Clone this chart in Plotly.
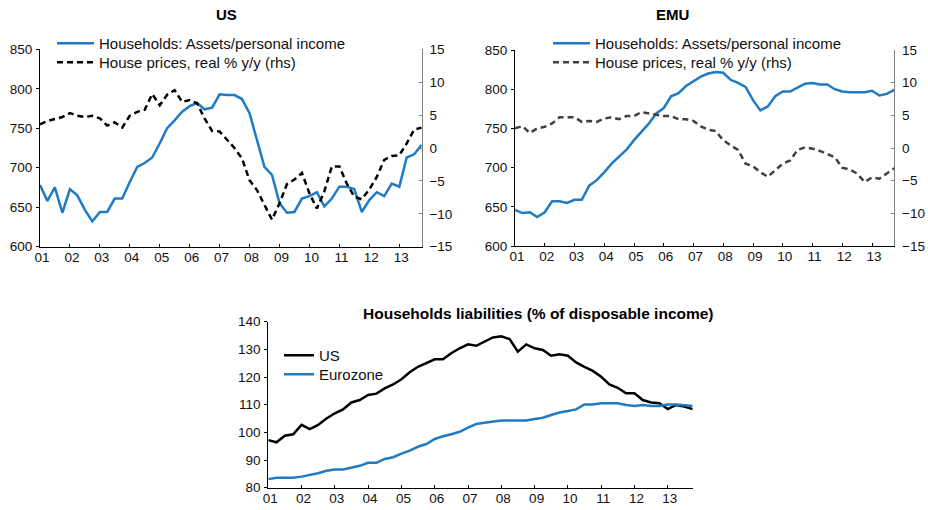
import plotly.graph_objects as go
import pandas as pd

# Quarterly observations 2001Q1 .. 2013Q4
quarters = pd.date_range("2001-01-01", periods=52, freq="QS")
year_ticks = pd.date_range("2001-01-01", "2013-01-01", freq="YS")

# US: households assets / personal income (lhs) and real house prices % y/y (rhs)
us_assets = [678, 658, 675, 643, 673, 665, 647, 632, 644, 644, 661, 661, 682, 701,
             706, 713, 731, 750, 760, 771, 778, 782, 774, 776, 793, 792, 792, 787,
             769, 735, 701, 691, 655, 643, 644, 661, 664, 669, 651, 661, 676, 676,
             673, 644, 659, 669, 664, 680, 676, 713, 717, 729]
us_house = [3.6, 4.1, 4.4, 4.7, 5.3, 4.9, 4.7, 4.9, 4.5, 3.4, 3.9, 3.1, 4.9, 5.5,
            5.8, 8.2, 6.5, 8.1, 8.8, 7.0, 7.3, 6.8, 4.5, 2.6, 2.5, 1.2, 0.0, -1.6,
            -4.9, -6.4, -8.6, -10.9, -8.4, -5.5, -4.8, -3.8, -6.9, -9.2, -6.6, -2.8,
            -2.8, -5.4, -7.4, -7.8, -6.3, -4.4, -1.8, -1.2, -1.1, 0.7, 2.8, 3.1]

# EMU
emu_assets = [646, 642, 643, 637, 643, 657, 657, 655, 659, 659, 677, 684, 694, 705,
              714, 723, 735, 746, 756, 769, 776, 791, 795, 804, 810, 816, 820, 822,
              821, 812, 808, 803, 786, 773, 778, 791, 797, 797, 802, 807, 808, 806,
              806, 800, 797, 796, 796, 796, 798, 792, 794, 799]
emu_house = [3.0, 3.35, 2.3, 3.0, 3.25, 3.75, 4.7, 4.7, 4.7, 4.0, 4.15, 4.0, 4.5, 4.7,
             4.4, 4.9, 4.9, 5.5, 5.3, 5.0, 4.9, 4.9, 4.4, 4.4, 4.15, 3.3, 2.8, 2.6,
             1.2, 0.4, -0.3, -2.4, -2.8, -3.7, -4.4, -3.4, -2.4, -1.9, -0.3, 0.1,
             -0.1, -0.45, -0.95, -1.4, -3.0, -3.3, -3.9, -5.2, -4.5, -4.7, -3.9, -3.1]

# Households liabilities (% of disposable income)
us_liab = [97.2, 96.4, 98.8, 99.3, 102.7, 101.2, 102.7, 105.0, 106.9, 108.3, 110.8,
           111.7, 113.5, 114.0, 115.9, 117.3, 119.2, 121.7, 123.7, 125.2, 126.4,
           126.4, 128.6, 130.4, 131.8, 131.3, 132.8, 134.3, 134.7, 133.7, 129.2,
           131.8, 130.4, 129.8, 127.7, 128.2, 127.7, 125.3, 123.7, 122.2, 120.1,
           117.3, 116.1, 114.1, 114.1, 111.7, 110.8, 110.5, 108.4, 109.9, 109.3, 108.4]
ez_liab = [83.1, 83.6, 83.6, 83.6, 84.0, 84.6, 85.2, 86.1, 86.6, 86.6, 87.3, 87.9,
           89.0, 89.0, 90.4, 91.0, 92.3, 93.4, 94.8, 95.8, 97.6, 98.6, 99.3, 100.2,
           101.7, 103.0, 103.5, 104.0, 104.3, 104.3, 104.3, 104.3, 104.8, 105.3,
           106.3, 107.2, 107.7, 108.3, 110.1, 110.1, 110.5, 110.5, 110.5, 109.9,
           109.5, 109.9, 109.5, 109.5, 110.1, 110.1, 109.9, 109.5]

BLUE = "#1F7BC4"
FONT = "Liberation Sans, Arial, sans-serif"
W, H = 928, 510
TICK = dict(family=FONT, size=13.5, color="#111111")
LEG = dict(family=FONT, size=15, color="#111111")


def dx(a, b):
    return [a / W, b / W]


def dy(top, bottom):
    return [1 - bottom / H, 1 - top / H]


fig = go.Figure()
# US panel
fig.add_trace(go.Scatter(x=quarters, y=us_assets, mode="lines",
                         name="Households: Assets/personal income",
                         line=dict(color=BLUE, width=2.5),
                         xaxis="x", yaxis="y", legend="legend"))
fig.add_trace(go.Scatter(x=quarters, y=us_house, mode="lines",
                         name="House prices, real % y/y (rhs)",
                         line=dict(color="black", width=2.5, dash="6px,4px"),
                         xaxis="x", yaxis="y2", legend="legend2"))
# EMU panel
fig.add_trace(go.Scatter(x=quarters, y=emu_assets, mode="lines",
                         name="Households: Assets/personal income",
                         line=dict(color=BLUE, width=2.5),
                         xaxis="x2", yaxis="y3", legend="legend3"))
fig.add_trace(go.Scatter(x=quarters, y=emu_house, mode="lines",
                         name="House prices, real % y/y (rhs)",
                         line=dict(color="#404040", width=2.5, dash="6px,4px"),
                         xaxis="x2", yaxis="y4", legend="legend4"))
# Liabilities panel
fig.add_trace(go.Scatter(x=quarters, y=us_liab, mode="lines", name="US",
                         line=dict(color="black", width=2.5),
                         xaxis="x3", yaxis="y5", legend="legend5"))
fig.add_trace(go.Scatter(x=quarters, y=ez_liab, mode="lines", name="Eurozone",
                         line=dict(color=BLUE, width=2.5),
                         xaxis="x3", yaxis="y5", legend="legend6"))


def xax(domain, anchor):
    return dict(domain=domain, anchor=anchor, type="date",
                range=[quarters[0], quarters[-1]],
                tickvals=list(year_ticks), tickformat="%y",
                ticks="inside", ticklen=3, tickcolor="black",
                showline=True, linecolor="black", linewidth=1,
                showgrid=False, zeroline=False, tickfont=TICK,
                ticklabelshift=2, ticklabelstandoff=-2)


def yl(domain, anchor, rng, dtick):
    return dict(domain=domain, anchor=anchor, range=rng, dtick=dtick,
                ticks="outside", ticklen=3, tickcolor="black",
                showline=True, linecolor="black", linewidth=1,
                showgrid=False, zeroline=False, tickfont=TICK,
                ticklabelstandoff=1)


def yr(over, anchor):
    return dict(overlaying=over, anchor=anchor, side="right", range=[-15, 15],
                dtick=5, ticks="inside", ticklen=3, tickcolor="#808080",
                showline=True, linecolor="#808080", linewidth=1,
                showgrid=False, zeroline=False, tickfont=TICK,
                ticklabelstandoff=4)


def legend(x, y, iw=37):
    return dict(x=x / W, y=1 - y / H, xanchor="left", yanchor="top",
                bgcolor="rgba(0,0,0,0)", font=LEG, tracegroupgap=0,
                itemwidth=iw, itemclick=False, traceorder="normal")


def title(text, x, y, size=15):
    return dict(text="<b>" + text + "</b>", x=x / W, y=1 - y / H,
                xref="paper", yref="paper", showarrow=False,
                xanchor="center", yanchor="middle",
                font=dict(family=FONT, size=size, color="black"))


fig.update_layout(
    width=W, height=H, autosize=False, template="none",
    margin=dict(l=0, r=0, t=0, b=0),
    paper_bgcolor="white", plot_bgcolor="white",
    font=dict(family=FONT, color="#111111"),
    showlegend=True, hovermode=False,
    xaxis=xax(dx(40, 421.7), "y"),
    yaxis=yl(dy(49.3, 246.7), "x", [600, 850], 50),
    yaxis2=yr("y", "x"),
    xaxis2=xax(dx(515, 894.3), "y3"),
    yaxis3=yl(dy(50, 246), "x2", [600, 850], 50),
    yaxis4=yr("y3", "x2"),
    xaxis3=xax(dx(268.3, 692.7), "y5"),
    yaxis5=yl(dy(321.7, 487.7), "x3", [80, 140], 10),
    legend=legend(52, 27),
    legend2=legend(52, 46),
    legend3=legend(548, 27),
    legend4=legend(548, 46),
    legend5=legend(279, 339, 30),
    legend6=legend(279, 358, 30),
    annotations=[
        title("US", 226, 14),
        title("EMU", 672, 14),
        title("Households liabilities (% of disposable income)", 538, 313, 15.5),
    ],
)

fig.write_html("out.html", config={"displayModeBar": False},
               post_script="document.body.style.margin='0px';")
